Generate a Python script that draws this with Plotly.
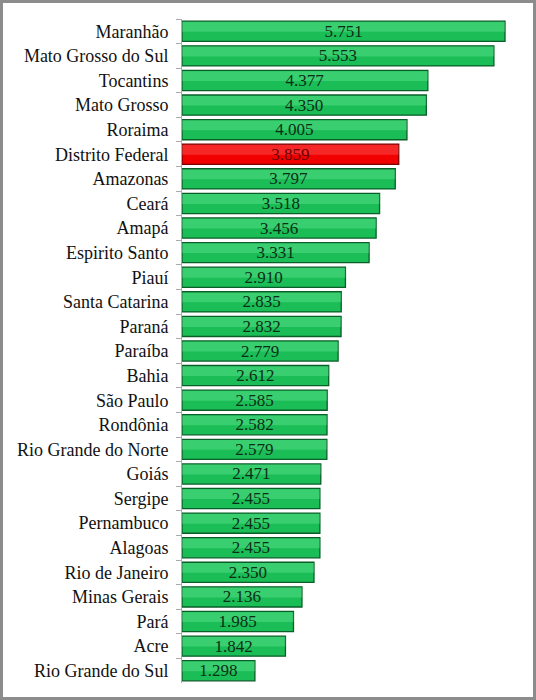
import plotly.graph_objects as go

estados = ["Maranhão", "Mato Grosso do Sul", "Tocantins", "Mato Grosso", "Roraima",
           "Distrito Federal", "Amazonas", "Ceará", "Amapá", "Espirito Santo",
           "Piauí", "Santa Catarina", "Paraná", "Paraíba", "Bahia", "São Paulo",
           "Rondônia", "Rio Grande do Norte", "Goiás", "Sergipe", "Pernambuco",
           "Alagoas", "Rio de Janeiro", "Minas Gerais", "Pará", "Acre",
           "Rio Grande do Sul"]
valores = [5.751, 5.553, 4.377, 4.350, 4.005, 3.859, 3.797, 3.518, 3.456, 3.331,
           2.910, 2.835, 2.832, 2.779, 2.612, 2.585, 2.582, 2.579, 2.471, 2.455,
           2.455, 2.455, 2.350, 2.136, 1.985, 1.842, 1.298]
destaque = "Distrito Federal"

W, H = 536, 700
ml, mr, mt, mb = 182, 17, 19, 17

cores = ["#f20000" if e == destaque else "#1abd56" for e in estados]
bordas = ["#7a0000" if e == destaque else "#0a5e28" for e in estados]
brilho = ["rgba(255,130,130,0.3)" if e == destaque else "rgba(130,245,170,0.3)" for e in estados]
cor_txt = ["#6a0000" if e == destaque else "#0c2e16" for e in estados]
textos = ["{:.3f}".format(v) for v in valores]

fig = go.Figure()
fig.add_trace(go.Bar(
    x=valores, y=estados, orientation="h",
    marker=dict(color=cores, line=dict(color=bordas, width=1.3)),
    hoverinfo="skip",
))
# faixa clara no topo das barras (efeito de relevo)
fig.add_trace(go.Bar(
    x=valores, y=estados, orientation="h", width=0.4, offset=-0.38,
    marker=dict(color=brilho, line=dict(width=0)),
    textposition="none", hoverinfo="skip",
))
fig.add_trace(go.Bar(
    x=valores, y=estados, orientation="h",
    marker=dict(color="rgba(0,0,0,0)", line=dict(width=0)),
    text=textos, textposition="inside", insidetextanchor="middle",
    textfont=dict(family="Liberation Serif", size=17, color=cor_txt),
))

fig.update_yaxes(autorange="reversed", tickson="boundaries", ticks="outside",
                 ticklen=5, tickcolor="#aaaaaa", showline=True, linecolor="#aaaaaa",
                 linewidth=1, tickfont=dict(family="Liberation Serif", size=18, color="#111111"),
                 automargin=False, ticklabelstandoff=9)
fig.update_xaxes(range=[0, 6], visible=False)

pw = W - ml - mr
ph = H - mt - mb
fig.add_shape(type="rect", xref="paper", yref="paper",
              x0=-(ml - 1.5) / pw, x1=1 + (mr - 1.5) / pw,
              y0=-(mb - 1.5) / ph, y1=1 + (mt - 1.5) / ph,
              line=dict(color="#8c8c8c", width=3))

fig.update_layout(width=W, height=H, margin=dict(l=ml, r=mr, t=mt, b=mb),
                  barmode="overlay", bargap=0.18, showlegend=False,
                  plot_bgcolor="white", paper_bgcolor="white",
                  uniformtext=dict(minsize=17, mode="show"))

fig.write_html("out.html", config={"displayModeBar": False},
               post_script="document.body.style.margin='0px';document.body.style.overflow='hidden';")
